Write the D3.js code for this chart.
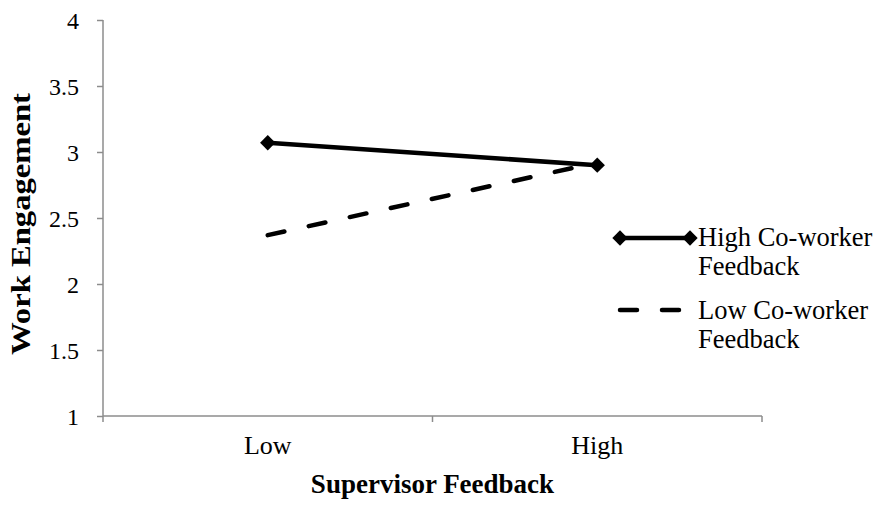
<!DOCTYPE html>
<html>
<head>
<meta charset="utf-8">
<script src="https://cdn.jsdelivr.net/npm/d3@7"></script>
<style>
  body { margin: 0; background: #fff; }
</style>
</head>
<body>
<div id="chart"></div>
<script>
const categories = ['Low', 'High'];
const highCoworker = [3.07, 2.90];
const lowCoworker = [2.37, 2.92];
const yTicks = [1, 1.5, 2, 2.5, 3, 3.5, 4];

const width = 877, height = 506;
const margin = { top: 20, right: 115, bottom: 90, left: 103 };
const axisColor = '#8c8c8c';
const serif = '"Liberation Serif", "Times New Roman", Times, serif';

const svg = d3.select('#chart').append('svg')
  .attr('width', width)
  .attr('height', height)
  .attr('font-family', serif);

const x = d3.scalePoint()
  .domain(categories)
  .range([margin.left, width - margin.right])
  .padding(0.5);

const xBand = d3.scaleBand()
  .domain(categories)
  .range([margin.left, width - margin.right]);

const y = d3.scaleLinear()
  .domain([1, 4])
  .range([height - margin.bottom, margin.top]);

// y axis
const yAxis = svg.append('g')
  .attr('transform', `translate(${margin.left},0)`)
  .call(d3.axisLeft(y).tickValues(yTicks).tickSize(6).tickPadding(18)
    .tickFormat(d3.format('~g')));
yAxis.attr('font-family', serif);
yAxis.select('.domain').attr('stroke', axisColor).attr('stroke-width', 1.5)
  .attr('d', `M0,${y(4)}V${y(1)}`);
yAxis.selectAll('.tick line').attr('stroke', axisColor).attr('stroke-width', 1.5);
yAxis.selectAll('.tick text')
  .style('font-family', serif)
  .style('font-size', '24px')
  .attr('fill', '#000')
  .attr('dy', '0.35em');

// x axis: ticks on category boundaries
const xg = svg.append('g').attr('transform', `translate(0,${y(1)})`);
xg.append('line')
  .attr('x1', margin.left).attr('x2', width - margin.right)
  .attr('stroke', axisColor).attr('stroke-width', 1.5);
const bounds = categories.map(c => xBand(c)).concat([xBand.range()[1]]);
xg.selectAll('.xtick')
  .data(bounds)
  .join('line')
  .attr('class', 'xtick')
  .attr('x1', d => d).attr('x2', d => d)
  .attr('y1', 0).attr('y2', 6)
  .attr('stroke', axisColor).attr('stroke-width', 1.5);
xg.selectAll('.xlabel')
  .data(categories)
  .join('text')
  .attr('class', 'xlabel')
  .attr('x', d => x(d))
  .attr('y', 38)
  .attr('text-anchor', 'middle')
  .style('font-family', serif)
  .style('font-size', '26px')
  .text(d => d);

// axis titles
svg.append('text')
  .attr('x', xBand.range()[0] / 2 + xBand.range()[1] / 2)
  .attr('y', 493)
  .attr('text-anchor', 'middle')
  .style('font-family', serif)
  .style('font-size', '27px')
  .style('font-weight', 'bold')
  .text('Supervisor Feedback');

svg.append('text')
  .attr('transform', `translate(30,${(y(1) + y(4)) / 2 + 6}) rotate(-90)`)
  .attr('text-anchor', 'middle')
  .attr('textLength', 262)
  .attr('lengthAdjust', 'spacingAndGlyphs')
  .style('font-family', serif)
  .style('font-size', '27px')
  .style('font-weight', 'bold')
  .text('Work Engagement');

// lines
const line = d3.line()
  .x((d, i) => x(categories[i]))
  .y(d => y(d));

svg.append('path')
  .datum(highCoworker)
  .attr('d', line)
  .attr('fill', 'none')
  .attr('stroke', '#000')
  .attr('stroke-width', 4.5);

svg.append('path')
  .datum(lowCoworker)
  .attr('d', line)
  .attr('fill', 'none')
  .attr('stroke', '#000')
  .attr('stroke-width', 4.5)
  .attr('stroke-linecap', 'round')
  .attr('stroke-dasharray', '17,25');

const diamond = d3.symbol().type(d3.symbolDiamond2).size(150);

svg.selectAll('.marker')
  .data(highCoworker)
  .join('path')
  .attr('class', 'marker')
  .attr('d', diamond)
  .attr('transform', (d, i) => `translate(${x(categories[i])},${y(d)})`)
  .attr('fill', '#000');

// legend
const legend = svg.append('g').attr('transform', 'translate(620,0)');
const lg1 = legend.append('g').attr('transform', 'translate(0,238)');
lg1.append('line')
  .attr('x1', 0).attr('x2', 70)
  .attr('stroke', '#000').attr('stroke-width', 4.5);
lg1.selectAll('path')
  .data([0, 70])
  .join('path')
  .attr('d', diamond)
  .attr('transform', d => `translate(${d},0)`)
  .attr('fill', '#000');

const lg2 = legend.append('g').attr('transform', 'translate(0,310)');
lg2.append('line')
  .attr('x1', 0).attr('x2', 66)
  .attr('stroke', '#000').attr('stroke-width', 4.5)
  .attr('stroke-linecap', 'round')
  .attr('stroke-dasharray', '17,25');

const legendText = [
  { lines: ['High Co-worker', 'Feedback'], y: 246 },
  { lines: ['Low Co-worker', 'Feedback'], y: 319 }
];
legendText.forEach(item => {
  const t = legend.append('text')
    .attr('x', 78)
    .attr('y', item.y)
    .style('font-family', serif)
    .style('font-size', '26.5px');
  item.lines.forEach((s, j) => {
    t.append('tspan')
      .attr('x', 78)
      .attr('dy', j === 0 ? 0 : 29)
      .text(s);
  });
});
</script>
</body>
</html>
